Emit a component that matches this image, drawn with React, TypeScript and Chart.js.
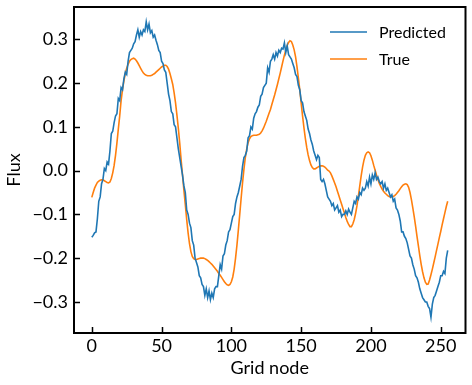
import React, { useEffect, useRef } from 'react';
import { Chart, registerables } from 'chart.js';

Chart.register(...registerables);

const gridNodes: number[] = Array.from({ length: 256 }, (_, i) => i);

const predicted: number[] = [
  -0.152, -0.148, -0.142, -0.140, -0.110, -0.070, -0.060, -0.030, -0.020, 0.005,
  0.000, 0.020, 0.015, 0.045, 0.085, 0.090, 0.110, 0.125, 0.130, 0.165,
  0.160, 0.190, 0.185, 0.210, 0.225, 0.220, 0.250, 0.270, 0.275, 0.280,
  0.290, 0.295, 0.310, 0.322, 0.305, 0.318, 0.310, 0.322, 0.318, 0.340,
  0.322, 0.335, 0.315, 0.320, 0.305, 0.310, 0.298, 0.288, 0.275, 0.270,
  0.250, 0.245, 0.230, 0.225, 0.200, 0.175, 0.160, 0.135, 0.130, 0.105,
  0.100, 0.075, 0.050, 0.030, 0.010, -0.010, -0.035, -0.050, -0.090, -0.100,
  -0.120, -0.130, -0.160, -0.170, -0.200, -0.210, -0.220, -0.240, -0.245, -0.260,
  -0.265, -0.285, -0.270, -0.290, -0.275, -0.295, -0.280, -0.290, -0.270, -0.265,
  -0.265, -0.240, -0.215, -0.225, -0.195, -0.190, -0.170, -0.160, -0.140, -0.135,
  -0.120, -0.105, -0.100, -0.075, -0.060, -0.050, -0.035, -0.020, 0.010, 0.030,
  0.035, 0.045, 0.075, 0.080, 0.100, 0.095, 0.120, 0.130, 0.135, 0.145,
  0.150, 0.170, 0.175, 0.190, 0.195, 0.200, 0.235, 0.225, 0.250, 0.255,
  0.265, 0.255, 0.270, 0.262, 0.275, 0.270, 0.280, 0.278, 0.292, 0.270,
  0.285, 0.265, 0.260, 0.255, 0.245, 0.235, 0.220, 0.215, 0.195, 0.185,
  0.160, 0.155, 0.135, 0.125, 0.115, 0.095, 0.085, 0.070, 0.060, 0.045,
  0.035, 0.025, 0.035, 0.030, -0.020, -0.025, -0.020, -0.030, -0.045, -0.060,
  -0.065, -0.070, -0.080, -0.075, -0.090, -0.085, -0.080, -0.095, -0.090, -0.105,
  -0.100, -0.100, -0.092, -0.100, -0.088, -0.095, -0.100, -0.085, -0.070, -0.075,
  -0.060, -0.065, -0.050, -0.055, -0.040, -0.045, -0.040, -0.025, -0.035, -0.015,
  -0.030, -0.010, -0.020, -0.005, -0.020, -0.015, -0.025, -0.030, -0.025, -0.040,
  -0.030, -0.045, -0.040, -0.050, -0.060, -0.055, -0.070, -0.065, -0.085, -0.090,
  -0.100, -0.115, -0.140, -0.140, -0.150, -0.155, -0.165, -0.180, -0.195, -0.200,
  -0.215, -0.225, -0.240, -0.245, -0.255, -0.270, -0.280, -0.290, -0.295, -0.300,
  -0.300, -0.310, -0.315, -0.335, -0.305, -0.290, -0.285, -0.275, -0.265, -0.255,
  -0.240, -0.240, -0.230, -0.235, -0.200, -0.182,
];

const trueFlux: number[] = [
  -0.061, -0.050, -0.040, -0.033, -0.027, -0.024, -0.022, -0.021, -0.021, -0.023,
  -0.025, -0.027, -0.028, -0.026, -0.018, -0.005, 0.012, 0.035, 0.063, 0.095,
  0.125, 0.160, 0.185, 0.205, 0.222, 0.234, 0.243, 0.250, 0.254, 0.256,
  0.257, 0.255, 0.251, 0.246, 0.240, 0.234, 0.228, 0.223, 0.220, 0.218,
  0.217, 0.217, 0.217, 0.218, 0.220, 0.222, 0.225, 0.228, 0.231, 0.234,
  0.237, 0.239, 0.241, 0.241, 0.238, 0.232, 0.222, 0.210, 0.197, 0.178,
  0.155, 0.127, 0.097, 0.063, 0.025, -0.010, -0.045, -0.078, -0.112, -0.142,
  -0.167, -0.185, -0.196, -0.201, -0.203, -0.203, -0.202, -0.201, -0.200, -0.200,
  -0.200, -0.201, -0.203, -0.205, -0.208, -0.211, -0.214, -0.218, -0.222, -0.226,
  -0.230, -0.235, -0.239, -0.244, -0.249, -0.254, -0.258, -0.261, -0.262, -0.260,
  -0.254, -0.243, -0.225, -0.200, -0.170, -0.136, -0.100, -0.063, -0.028, 0.003,
  0.030, 0.050, 0.064, 0.073, 0.078, 0.080, 0.081, 0.081, 0.081, 0.082,
  0.083, 0.086, 0.091, 0.097, 0.105, 0.113, 0.122, 0.131, 0.140, 0.151,
  0.162, 0.173, 0.185, 0.197, 0.210, 0.223, 0.237, 0.251, 0.264, 0.276,
  0.286, 0.293, 0.297, 0.295, 0.287, 0.276, 0.260, 0.238, 0.212, 0.185,
  0.155, 0.125, 0.098, 0.074, 0.053, 0.036, 0.023, 0.013, 0.007, 0.004,
  0.004, 0.006, 0.008, 0.010, 0.011, 0.011, 0.010, 0.008, 0.005, 0.001,
  -0.001, -0.005, -0.012, -0.020, -0.028, -0.037, -0.047, -0.057, -0.067, -0.077,
  -0.087, -0.097, -0.107, -0.116, -0.123, -0.128, -0.128, -0.122, -0.112, -0.098,
  -0.080, -0.058, -0.035, -0.012, 0.008, 0.024, 0.035, 0.041, 0.043, 0.041,
  0.034, 0.024, 0.012, 0.001, -0.010, -0.020, -0.029, -0.036, -0.042, -0.047,
  -0.051, -0.054, -0.057, -0.059, -0.060, -0.060, -0.059, -0.057, -0.054, -0.050,
  -0.046, -0.041, -0.037, -0.033, -0.031, -0.030, -0.032, -0.038, -0.050, -0.066,
  -0.085, -0.105, -0.127, -0.150, -0.172, -0.194, -0.214, -0.231, -0.245, -0.255,
  -0.260, -0.259, -0.250, -0.238, -0.225, -0.211, -0.197, -0.182, -0.168, -0.153,
  -0.139, -0.124, -0.110, -0.096, -0.082, -0.070,
];

const seriesLabels = ['Predicted', 'True'];
const seriesColors = ['#1f77b4', '#ff7f0e'];
const xTicks = [0, 50, 100, 150, 200, 250];
const yTicks = [-0.3, -0.2, -0.1, 0, 0.1, 0.2, 0.3];
const xTitle = 'Grid node';
const yTitle = 'Flux';

const FONT = 'Lato, "DejaVu Sans", sans-serif';

const framePlugin = {
  id: 'frameAndLegend',
  afterDraw(chart: any) {
    const { ctx, chartArea: a, scales } = chart;
    ctx.save();
    ctx.strokeStyle = '#000';
    ctx.lineWidth = 1.5;
    const len = 6;
    ctx.beginPath();
    scales.x.ticks.forEach((t: any) => {
      const px = Math.round(scales.x.getPixelForValue(t.value)) + 0.5;
      ctx.moveTo(px, a.bottom);
      ctx.lineTo(px, a.bottom - len);
    });
    scales.y.ticks.forEach((t: any) => {
      const py = Math.round(scales.y.getPixelForValue(t.value)) + 0.5;
      ctx.moveTo(a.left, py);
      ctx.lineTo(a.left + len, py);
    });
    ctx.stroke();
    ctx.lineWidth = 2;
    ctx.strokeRect(a.left, a.top, a.right - a.left, a.bottom - a.top);

    // legend (upper right, no frame)
    ctx.font = '16px ' + FONT;
    ctx.fillStyle = '#000';
    ctx.textBaseline = 'alphabetic';
    ctx.textAlign = 'left';
    const lx0 = 330, lx1 = 367, tx = 379;
    const rows = [{ ly: 32, ty: 38 }, { ly: 59, ty: 65 }];
    chart.data.datasets.forEach((ds: any, i: number) => {
      ctx.strokeStyle = ds.borderColor;
      ctx.lineWidth = 1.6;
      ctx.beginPath();
      ctx.moveTo(lx0, rows[i].ly);
      ctx.lineTo(lx1, rows[i].ly);
      ctx.stroke();
      ctx.fillText(ds.label, tx, rows[i].ty);
    });
    ctx.restore();
  },
};

export default function App() {
  const ref = useRef<HTMLCanvasElement | null>(null);
  useEffect(() => {
    document.body.style.margin = '0';
    const canvas = ref.current!;
    const mk = (vals: number[]) => gridNodes.map((x, i) => ({ x, y: vals[i] }));
    const chart = new Chart(canvas, {
      type: 'line',
      data: {
        datasets: [predicted, trueFlux].map((vals, i) => ({
          label: seriesLabels[i],
          data: mk(vals),
          borderColor: seriesColors[i],
          backgroundColor: seriesColors[i],
          borderWidth: 1.6,
          pointRadius: 0,
          tension: 0,
          fill: false,
        })),
      },
      options: {
        responsive: false,
        animation: false,
        devicePixelRatio: 1,
        layout: { padding: { top: 7, right: 6.5, left: 0, bottom: 0 } },
        plugins: { legend: { display: false }, tooltip: { enabled: false } },
        scales: {
          x: {
            type: 'linear',
            min: -12.75,
            max: 267.75,
            grid: { display: false, drawTicks: false },
            border: { display: false },
            afterBuildTicks: (axis: any) => {
              axis.ticks = xTicks.map((v) => ({ value: v }));
            },
            afterFit: (axis: any) => {
              axis.height = 52;
              axis.paddingLeft = 0;
              axis.paddingRight = 0;
            },
            ticks: {
              color: '#000',
              padding: 2,
              maxRotation: 0,
              font: { family: FONT, size: 18 },
              callback: (v: any) => String(v),
            },
            title: {
              display: true,
              text: xTitle,
              color: '#000',
              font: { family: FONT, size: 18 },
              padding: { top: 0, bottom: 6 },
            },
          },
          y: {
            type: 'linear',
            min: -0.371,
            max: 0.374,
            grid: { display: false, drawTicks: false },
            border: { display: false },
            afterBuildTicks: (axis: any) => {
              axis.ticks = yTicks.map((v) => ({ value: v }));
            },
            afterFit: (axis: any) => {
              axis.width = 74;
              axis.paddingTop = 0;
              axis.paddingBottom = 0;
            },
            ticks: {
              color: '#000',
              padding: 6,
              font: { family: FONT, size: 18 },
              callback: (v: any) => {
                const n = Number(v);
                return (n < -1e-9 ? '\u2212' : '') + Math.abs(n).toFixed(1);
              },
            },
            title: {
              display: true,
              text: yTitle,
              color: '#000',
              font: { family: FONT, size: 18 },
              padding: { top: 3, bottom: 0 },
            },
          },
        },
      },
      plugins: [framePlugin],
    });
    return () => chart.destroy();
  }, []);
  return (
    <div style={{ position: 'absolute', left: 0, top: 0, width: 472, height: 385 }}>
      <canvas ref={ref} width={472} height={385} style={{ display: 'block', width: 472, height: 385 }} />
    </div>
  );
}
